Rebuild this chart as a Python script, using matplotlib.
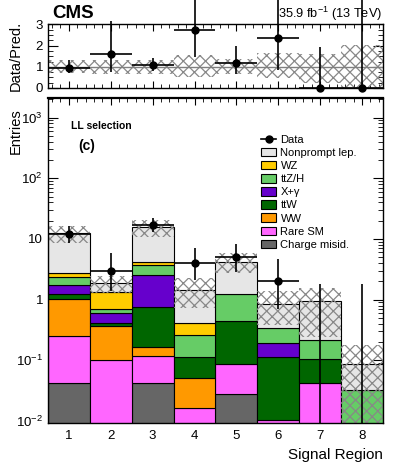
import numpy as np
import matplotlib
matplotlib.use('Agg')
import matplotlib.pyplot as plt
from matplotlib.patches import Patch
from matplotlib.lines import Line2D
from matplotlib.ticker import MultipleLocator, LogLocator, FixedLocator, FuncFormatter, NullFormatter

plt.rcParams['font.family'] = ['Liberation Sans', 'DejaVu Sans']
plt.rcParams['mathtext.fontset'] = 'custom'
plt.rcParams['mathtext.rm'] = 'Liberation Sans'
plt.rcParams['mathtext.it'] = 'Liberation Sans:italic'
plt.rcParams['mathtext.bf'] = 'Liberation Sans:bold'
plt.rcParams['hatch.linewidth'] = 0.9

# signal regions
regions = np.arange(1, 9)

# stacked backgrounds, bottom to top
charge_misid = [0.043, 0, 0.043, 0, 0.028, 0, 0, 0]
rare_sm = [0.213, 0.102, 0.077, 0.0164, 0.060, 0.0105, 0.042, 0]
ww = [0.76, 0.27, 0.046, 0.034, 0, 0, 0, 0]
ttw = [0.21, 0.04, 0.60, 0.062, 0.35, 0.103, 0.063, 0]
x_gamma = [0.52, 0.19, 1.78, 0, 0, 0.078, 0, 0]
ttzh = [0.60, 0.11, 1.25, 0.147, 0.79, 0.15, 0.112, 0.032]
wz = [0.45, 0.62, 0.37, 0.15, 0, 0, 0, 0]
nonprompt = [9.7, 0.54, 11.5, 1.04, 2.98, 0.51, 0.74, 0.055]

# relative uncertainty of prediction
unc_up = [0.3, 0.32, 0.32, 0.55, 0.38, 0.65, 0.6, 1.05]
unc_dn = [0.3, 0.32, 0.32, 0.5, 0.35, 0.55, 0.75, 1.0]

# observed data and poisson errors
data = [12, 3, 17, 4, 5, 2, 0, 0]
data_lo = [3.44, 1.63, 4.08, 1.91, 2.16, 1.29, 0, 0]
data_hi = [4.55, 2.92, 5.2, 3.16, 3.38, 2.64, 1.84, 1.84]

stack = [
    ('Charge misid.', charge_misid, '#666666'),
    ('Rare SM', rare_sm, '#ff66ff'),
    ('WW', ww, '#ff9900'),
    ('ttW', ttw, '#006600'),
    ('X+γ', x_gamma, '#6600cc'),
    ('ttZ/H', ttzh, '#66cc66'),
    ('WZ', wz, '#ffcc00'),
    ('Nonprompt lep.', nonprompt, '#e6e6e6'),
]

fig = plt.figure(figsize=(3.99, 4.65), dpi=100)
axr = fig.add_axes([0.120, 0.8108, 0.840, 0.1366])
ax = fig.add_axes([0.120, 0.0903, 0.840, 0.6989])

# ---- main panel
bottom = np.zeros(len(regions))
for name, vals, col in stack:
    vals = np.array(vals, dtype=float)
    m = vals > 0
    ax.bar(regions[m], vals[m], width=1.0, bottom=np.where(bottom[m] > 0, bottom[m], 1e-4),
           color=col, edgecolor='black', linewidth=0.8, zorder=2)
    bottom += vals
total = bottom

up = np.array(unc_up)
dn = np.array(unc_dn)
lo_band = np.clip(total * (1 - dn), 1e-4, None)
ax.bar(regions, total * (1 + up) - lo_band, width=1.0, bottom=lo_band, fill=False,
       hatch='xxx', edgecolor='#888888', linewidth=0, zorder=3)

d = np.array(data, dtype=float)
dl = np.array(data_lo)
dh = np.array(data_hi)
pos = d > 0
ax.errorbar(regions[pos], d[pos], xerr=0.5, yerr=[dl[pos], dh[pos]], fmt='o', color='black',
            ms=5, lw=1.2, capsize=0, zorder=5)
ax.vlines(regions[~pos], 1e-3, dh[~pos], color='black', lw=1.2, zorder=5)

ax.set_yscale('log')
ax.set_ylim(0.0093, 2100)
ax.set_xlim(0.5, 8.5)
ax.xaxis.set_major_locator(FixedLocator(regions))
ax.xaxis.set_minor_locator(MultipleLocator(0.2))
ax.yaxis.set_major_locator(LogLocator(base=10, numticks=10))
ax.yaxis.set_minor_locator(LogLocator(base=10, subs=np.arange(2, 10), numticks=20))
ax.yaxis.set_minor_formatter(NullFormatter())


def logfmt(v, p):
    e = int(round(np.log10(v)))
    if e == 0:
        return '1'
    if e == 1:
        return '10'
    return '$10^{%d}$' % e


ax.yaxis.set_major_formatter(FuncFormatter(logfmt))
ax.tick_params(which='both', direction='in', top=True, right=True, labelsize=9.5)
ax.tick_params(axis='y', which='major', length=7)
ax.tick_params(axis='y', which='minor', length=3.5)
ax.tick_params(axis='x', which='major', length=5, pad=5)
ax.tick_params(axis='x', which='minor', length=3)
ax.set_xlabel('Signal Region', fontsize=11, loc='right')
ax.set_ylabel('Entries', fontsize=10.5, loc='top')
ax.yaxis.set_label_coords(-0.075, 0.97)
for s in ax.spines.values():
    s.set_linewidth(1.0)
    s.set_zorder(6)
ax.spines['top'].set_linewidth(1.6)

ax.text(0.07, 0.915, 'LL selection', transform=ax.transAxes, fontsize=7.5, fontweight='bold', va='center')
ax.text(0.09, 0.853, '(c)', transform=ax.transAxes, fontsize=10, fontweight='bold', va='center')

handles = [Line2D([], [], color='black', marker='o', ms=5, lw=1.2)]
labels = ['Data']
for name, vals, col in stack[::-1]:
    handles.append(Patch(facecolor=col, edgecolor='black', linewidth=0.8))
    labels.append(name)
ax.legend(handles, labels, loc='upper left', bbox_to_anchor=(0.636, 0.887), frameon=False,
          fontsize=8, handlelength=1.35, handleheight=0.8, labelspacing=0.27,
          handletextpad=0.4, borderaxespad=0, borderpad=0)

# ---- ratio panel
ratio = d / total
axr.bar(regions, up + dn, width=1.0, bottom=1 - dn, fill=False, hatch='xxx',
        edgecolor='#888888', linewidth=0, zorder=2)
axr.axhline(1, color='#808080', lw=1, zorder=3)
axr.errorbar(regions, ratio, xerr=0.5, yerr=[dl / total, dh / total], fmt='o', color='black',
             ms=5, lw=1.2, capsize=0, zorder=5, clip_on=False)
axr.set_ylim(0, 3)
axr.set_xlim(0.5, 8.5)
axr.xaxis.set_major_locator(FixedLocator(regions))
axr.xaxis.set_minor_locator(MultipleLocator(0.2))
axr.yaxis.set_major_locator(MultipleLocator(1))
axr.yaxis.set_minor_locator(MultipleLocator(0.25))
axr.tick_params(which='both', direction='in', top=True, right=True, labelsize=9.5, labelbottom=False)
axr.tick_params(axis='y', which='major', length=7)
axr.tick_params(axis='y', which='minor', length=3.5)
axr.tick_params(axis='x', which='major', length=5)
axr.tick_params(axis='x', which='minor', length=3)
axr.set_ylabel('Data/Pred.', fontsize=10.5)
axr.yaxis.set_label_coords(-0.075, 0.5)
for s in axr.spines.values():
    s.set_linewidth(1.0)
    s.set_zorder(6)

fig.text(0.13, 0.961, 'CMS', fontsize=13.5, fontweight='bold', va='baseline')
fig.text(0.958, 0.962, '35.9 fb$^{-1}$ (13 TeV)', fontsize=9.2, ha='right', va='baseline')

fig.savefig('out.png', dpi=100)
